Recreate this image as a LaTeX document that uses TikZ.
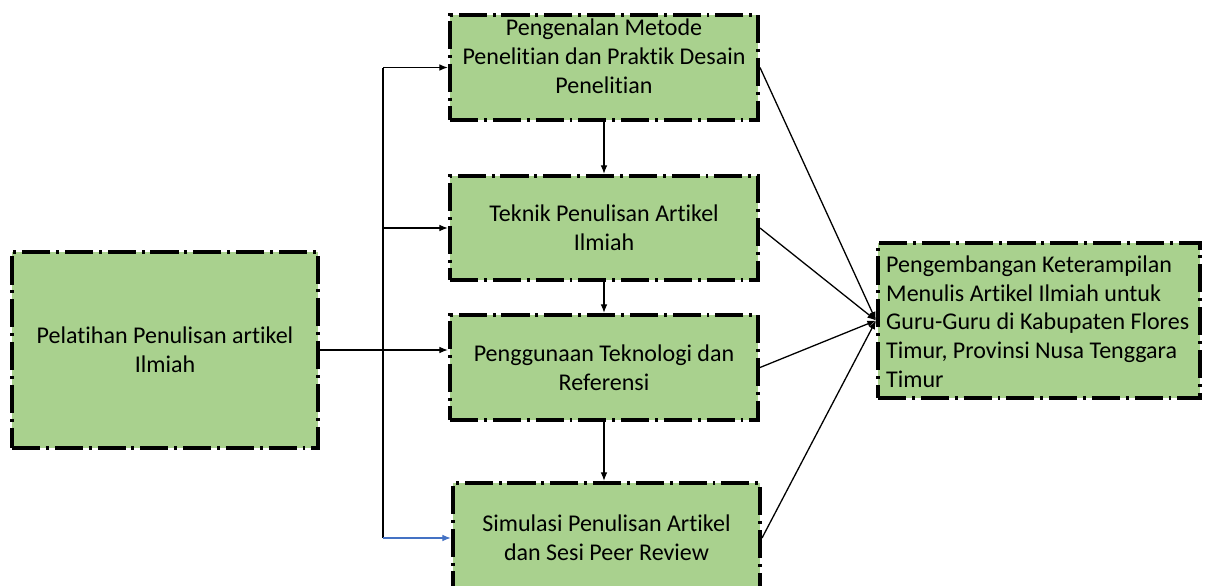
\documentclass[tikz,border=0pt]{standalone}
\usepackage{fontspec}
\setmainfont{Carlito}[Ligatures=NoCommon]
\usepackage{xcolor}
\usetikzlibrary{arrows.meta, positioning}
\definecolor{boxgreen}{HTML}{A9D18E}
\definecolor{linkblue}{HTML}{4472C4}

\begin{document}
\begin{tikzpicture}[
        x=0.03cm, y=-0.03cm,
        font=\fontsize{20.5}{24.5}\selectfont,
        box/.style={draw, line width=3.4pt,
            dash pattern=on 24pt off 5pt on 2.5pt off 5pt,
            fill=boxgreen, align=center, inner sep=2pt},
        arr/.style={-{Latex[length=2.6mm, width=2mm]}, line width=1.1pt},
    ]
        \useasboundingbox (0,0) rectangle (1208,585);

        % input box
        \node[box, minimum width=9.18cm, minimum height=5.88cm] (pel) at (165,350)
            {Pelatihan Penulisan artikel\\Ilmiah};

        % middle column
        \node[box, minimum width=9.24cm, minimum height=3.15cm] (met) at (604,67.5) {};
        \node[align=center, inner sep=0pt] (mettxt) at ([yshift=0.34cm]met.center)
            {Pengenalan Metode\\Penelitian dan Praktik Desain\\Penelitian};
        \node[box, minimum width=9.24cm, minimum height=3.12cm] (tek) at (604,228)
            {Teknik Penulisan Artikel\\Ilmiah};
        \node[box, minimum width=9.24cm, minimum height=3.15cm] (pen) at (604,367.5)
            {Penggunaan Teknologi dan\\Referensi};
        \node[box, minimum width=9.21cm, minimum height=3.3cm] (sim) at (606.5,538)
            {Simulasi Penulisan Artikel\\dan Sesi Peer Review};

        % output box
        \node[box, minimum width=9.66cm, minimum height=4.65cm] (pkt) at (1039,320.5) {};
        \node[align=left, anchor=west, inner sep=0pt] (pkttxt) at ([xshift=0.3cm, yshift=-0.03cm]pkt.west)
            {Pengembangan Keterampilan\\Menulis Artikel Ilmiah untuk\\Guru-Guru di Kabupaten Flores\\Timur, Provinsi Nusa Tenggara\\Timur};

        % branching from the input box
        \coordinate (top) at (383,0 |- met.west);
        \coordinate (bot) at (383,0 |- sim.west);
        \draw[line width=1.1pt] (top) -- (bot);
        \draw[arr] (pel.east) -- (pel.east -| pen.west);
        \draw[arr] (top) -- (met.west);
        \draw[arr] (top |- tek.west) -- (tek.west);
        \draw[arr, linkblue] (bot) -- (sim.west);

        % steps down the column
        \draw[arr] (met.south) -- (tek.north);
        \draw[arr] (tek.south) -- (pen.north);
        \draw[arr] (pen.south) -- (pen.south |- sim.north);

        % all steps feed the outcome
        \draw[arr] (met.east) -- (pkt.west);
        \draw[arr] (tek.east) -- (pkt.west);
        \draw[arr] (pen.east) -- (pkt.west);
        \draw[arr] (sim.east) -- (pkt.west);
    \end{tikzpicture}
\end{document}
